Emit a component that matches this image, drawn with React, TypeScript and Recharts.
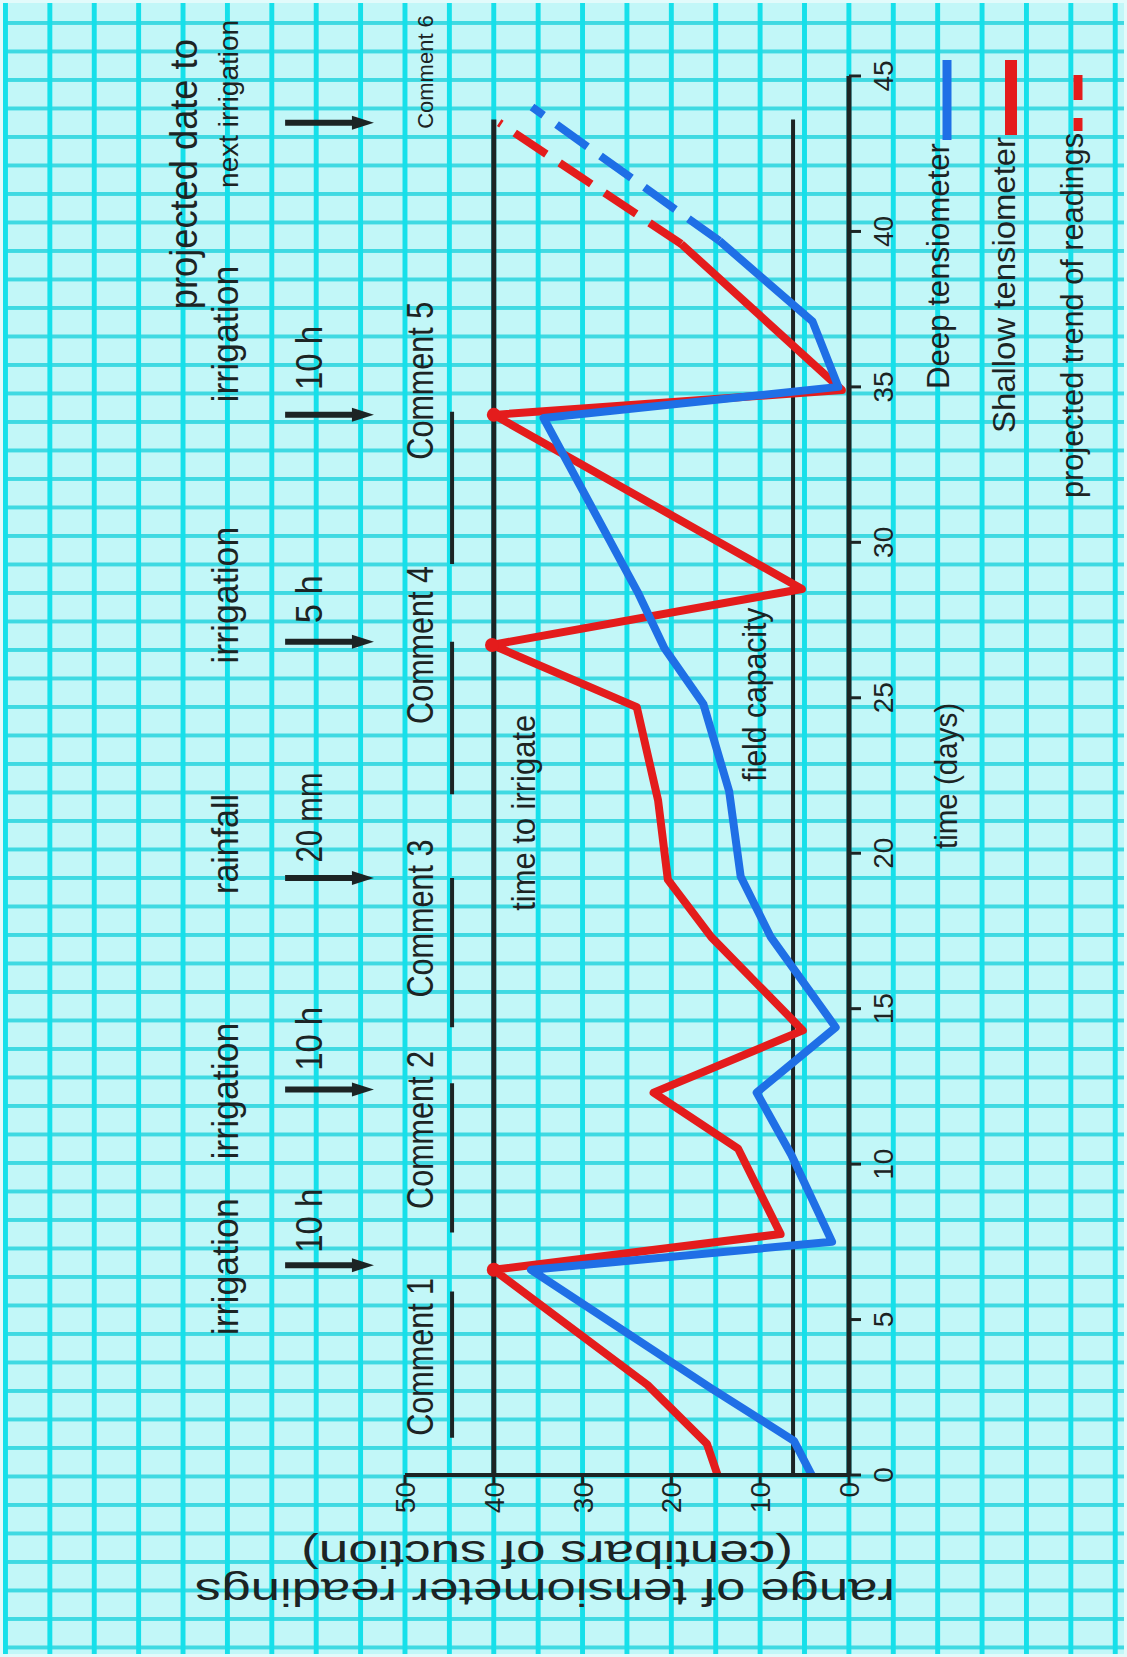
import React from "react";
import {
  LineChart,
  Line,
  XAxis,
  YAxis,
  ReferenceLine,
  ReferenceDot,
  Legend,
} from "recharts";

const INK = "#1c2424";
const BLUE = "#1f6fe6";
const RED = "#e41c1c";
const FONT = '"Liberation Sans", Arial, Helvetica, sans-serif';

// tensiometer readings (day, centibars)
const deepDays = [0, 1.1, 2.8, 6.6, 7.5, 10.3, 12.3, 14.4, 17.3, 19.25, 22, 24.8, 26.6, 28.4, 34, 35, 37.1, 39.7];
const deepCb = [4.2, 6.2, 15.6, 35.8, 1.9, 6.5, 10.4, 1.5, 8.8, 12.2, 13.5, 16.4, 20.8, 23.8, 34.4, 1.2, 4.1, 14.6];
const shallowDays = [0, 1, 2.9, 6.6, 7.75, 10.5, 12.3, 14.3, 17.3, 19.15, 21.7, 24.7, 26.7, 28.5, 34.1, 34.9, 39.6];
const shallowCb = [14.8, 16, 22.7, 40, 7.7, 12.5, 22, 5.2, 15.5, 20.4, 21.5, 23.9, 40.2, 5.3, 40, 0.8, 18.9];
const deepTrendDays = [39.7, 44];
const deepTrendCb = [14.6, 35.7];
const shallowTrendDays = [39.6, 43.5];
const shallowTrendCb = [18.9, 39.4];

const dayTicks = [0, 5, 10, 15, 20, 25, 30, 35, 40, 45];
const cbTicks = [0, 10, 20, 30, 40, 50];

// events written above the plot
const eventDays = [6.75, 12.4, 19.2, 26.8, 34.1, 43.5];
const eventNames = ["irrigation", "irrigation", "rainfall", "irrigation", "irrigation"];
const eventNameDays = [6.7, 12.35, 20.3, 28.3, 36.7];
const eventNameLens = [137, 137, 100, 137, 137];
const eventAmounts = ["10 h", "10 h", "20 mm", "5 h", "10 h"];
const eventAmountDays = [7.15, 13.0, 19.7, 27.4, 34.9];
const eventAmountLens = [64, 64, 90, 48, 64];

const commentLabels = ["Comment 1", "Comment 2", "Comment 3", "Comment 4", "Comment 5"];
const commentDays = [3.8, 11.1, 17.9, 26.7, 35.2];
const commentFrom = [1.2, 7.8, 14.4, 21.9, 29.3];
const commentTo = [5.9, 12.6, 19.2, 26.8, 34.2];

const legendNames = ["Deep tensiometer", "Shallow tensiometer", "projected trend of readings"];
const legendLens = [246, 296, 365];

// rows (in centibar units) used to place the notes
const TIME_TO_IRRIGATE = 40;
const FIELD_CAPACITY = 6.3;
const LINE_END = 43.6;
const ROW_PROJECTED = 73.4;
const ROW_EVENT = 68.8;
const ROW_ARROW_TOP = 63.5;
const ROW_ARROW_TIP = 53.5;
const ROW_AMOUNT = 59.3;
const ROW_COMMENT = 46.8;
const ROW_COMMENT_BAR = 44.7;
const ROW_IRRIGATE_TXT = 35.4;
const ROW_FC_TXT = 9.3;

const rows = (days: number[], vals: number[]) => days.map((d, i) => ({ day: d, cb: vals[i] }));

const textShape =
  (label: string, len: number | undefined, size: number, anchor: "start" | "middle" | "end") =>
  (p: any) =>
    (
      <text
        x={p.cx}
        y={p.cy}
        fontSize={size}
        textAnchor={anchor}
        textLength={len}
        lengthAdjust={len ? "spacingAndGlyphs" : undefined}
        fill={INK}
        fontFamily={FONT}
      >
        {label}
      </text>
    );

const arrowShape = (p: any) => {
  const { x1, y1, x2, y2 } = p;
  const head = 22;
  return (
    <g>
      <line x1={x1} y1={y1} x2={x2} y2={y2 - head + 2} stroke={INK} strokeWidth={6} />
      <path d={`M${x2 - 7},${y2 - head} L${x2 + 7},${y2 - head} L${x2},${y2} Z`} fill={INK} />
    </g>
  );
};

const DayTick = (p: any) => (
  <text x={p.x} y={p.y + 32} textAnchor="middle" fontSize={28} fill={INK} fontFamily={FONT}>
    {p.payload.value}
  </text>
);

const CbTick = (p: any) => (
  <text x={p.x + 3} y={p.y + 10} textAnchor="end" fontSize={28} fill={INK} fontFamily={FONT}>
    {p.payload.value}
  </text>
);

function KeyBox() {
  return (
    <svg width={460} height={200} style={{ overflow: "visible" }}>
      <text x={364} y={44} fontSize={32} textAnchor="end" textLength={legendLens[0]} lengthAdjust="spacingAndGlyphs" fill={INK} fontFamily={FONT}>
        {legendNames[0]}
      </text>
      <line x1={367} x2={447} y1={42} y2={42} stroke={BLUE} strokeWidth={9} />
      <text x={370} y={110} fontSize={32} textAnchor="end" textLength={legendLens[1]} lengthAdjust="spacingAndGlyphs" fill={INK} fontFamily={FONT}>
        {legendNames[1]}
      </text>
      <line x1={372} x2={447} y1={106} y2={106} stroke={RED} strokeWidth={12} />
      <text x={374} y={178} fontSize={32} textAnchor="end" textLength={legendLens[2]} lengthAdjust="spacingAndGlyphs" fill={INK} fontFamily={FONT}>
        {legendNames[2]}
      </text>
      <line x1={376} x2={389} y1={173} y2={173} stroke={RED} strokeWidth={9} />
      <line x1={407} x2={432} y1={173} y2={173} stroke={RED} strokeWidth={9} />
    </svg>
  );
}

const peakDot = (p: any) =>
  p.value >= 39 ? (
    <circle key={`pk-${p.index}`} cx={p.cx} cy={p.cy} r={7} fill={RED} />
  ) : (
    <g key={`pk-${p.index}`} />
  );

export default function App() {
  return (
    <div
      style={{
        position: "absolute",
        left: 0,
        top: 0,
        width: 1127,
        height: 1657,
        overflow: "hidden",
        backgroundColor: "#c2f7f8",
        backgroundImage:
          "linear-gradient(to right, #16e0ea 5px, transparent 5px), linear-gradient(to bottom, #3fd9e2 4px, transparent 4px)",
        backgroundSize: "44.4px 100%, 100% 28.5px",
        backgroundPosition: "3px 0, 0 21px",
        boxShadow: "inset 0 0 0 3px #e2fbfb",
        fontFamily: FONT,
      }}
    >
      <div
        style={{
          position: "absolute",
          left: 0,
          top: 0,
          width: 1657,
          height: 1127,
          transform: "translateY(1657px) rotate(-90deg)",
          transformOrigin: "0 0",
        }}
      >
        <LineChart width={1657} height={1127} margin={{ top: 405, right: 76, bottom: 218, left: 122 }}>
          <XAxis
            type="number"
            dataKey="day"
            domain={[0, 45]}
            ticks={dayTicks}
            interval={0}
            height={60}
            tickSize={12}
            tickMargin={0}
            tick={DayTick}
            axisLine={{ stroke: INK, strokeWidth: 5 }}
            tickLine={{ stroke: INK, strokeWidth: 3 }}
            label={(p: any) => (
              <text x={881} y={957} textAnchor="middle" fontSize={32} textLength={146} lengthAdjust="spacingAndGlyphs" fill={INK} fontFamily={FONT}>
                time (days)
              </text>
            )}
          />
          <YAxis
            type="number"
            domain={[0, 50]}
            ticks={cbTicks}
            interval={0}
            width={60}
            tickSize={10}
            tickMargin={0}
            tick={CbTick}
            axisLine={{ stroke: INK, strokeWidth: 4 }}
            tickLine={{ stroke: INK, strokeWidth: 3 }}
            label={(p: any) => (
              <g>
                <text transform="translate(78,545) rotate(-90)" textAnchor="middle" fontSize={38} textLength={700} lengthAdjust="spacingAndGlyphs" fill={INK} fontFamily={FONT}>
                  range of tensiometer readings
                </text>
                <text transform="translate(116,547) rotate(-90)" textAnchor="middle" fontSize={38} textLength={492} lengthAdjust="spacingAndGlyphs" fill={INK} fontFamily={FONT}>
                  (centibars of suction)
                </text>
              </g>
            )}
          />
          <Legend verticalAlign="middle" align="center" layout="horizontal" wrapperStyle={{ position: "absolute", left: 1150, top: 905, width: 460, height: 200 }} content={() => <KeyBox />} />

          <ReferenceLine segment={[{ x: 0, y: TIME_TO_IRRIGATE }, { x: LINE_END, y: TIME_TO_IRRIGATE }]} stroke={INK} strokeWidth={5} ifOverflow="visible" />
          <ReferenceLine segment={[{ x: 0, y: FIELD_CAPACITY }, { x: LINE_END, y: FIELD_CAPACITY }]} stroke={INK} strokeWidth={4} ifOverflow="visible" />
          {commentFrom.map((d, i) => (
            <ReferenceLine key={`cb-${i}`} segment={[{ x: d, y: ROW_COMMENT_BAR }, { x: commentTo[i], y: ROW_COMMENT_BAR }]} stroke={INK} strokeWidth={4} ifOverflow="visible" />
          ))}
          {eventDays.map((d, i) => (
            <ReferenceLine key={`ar-${i}`} segment={[{ x: d, y: ROW_ARROW_TOP }, { x: d, y: ROW_ARROW_TIP }]} ifOverflow="visible" shape={arrowShape} />
          ))}
          {eventNames.map((n, i) => (
            <ReferenceDot key={`en-${i}`} x={eventNameDays[i]} y={ROW_EVENT} r={0} ifOverflow="visible" shape={textShape(n, eventNameLens[i], 36, "middle")} />
          ))}
          {eventAmounts.map((n, i) => (
            <ReferenceDot key={`ea-${i}`} x={eventAmountDays[i]} y={ROW_AMOUNT} r={0} ifOverflow="visible" shape={textShape(n, eventAmountLens[i], 36, "start")} />
          ))}
          {commentLabels.map((n, i) => (
            <ReferenceDot key={`cm-${i}`} x={commentDays[i]} y={ROW_COMMENT} r={0} ifOverflow="visible" shape={textShape(n, 158, 36, "middle")} />
          ))}
          <ReferenceDot x={43.3} y={ROW_COMMENT} r={0} ifOverflow="visible" shape={textShape("Comment 6", undefined, 22, "start")} />
          <ReferenceDot x={37.5} y={ROW_PROJECTED} r={0} ifOverflow="visible" shape={textShape("projected date to", 270, 38, "start")} />
          <ReferenceDot x={41.4} y={ROW_EVENT} r={0} ifOverflow="visible" shape={textShape("next irrigation", undefined, 28, "start")} />
          <ReferenceDot x={21.3} y={ROW_IRRIGATE_TXT} r={0} ifOverflow="visible" shape={textShape("time to irrigate", 196, 34, "middle")} />
          <ReferenceDot x={25.1} y={ROW_FC_TXT} r={0} ifOverflow="visible" shape={textShape("field capacity", 174, 34, "middle")} />

          <Line data={rows(shallowDays, shallowCb)} dataKey="cb" type="linear" stroke={RED} strokeWidth={8} strokeLinejoin="round" dot={peakDot} activeDot={false} isAnimationActive={false} />
          <Line data={rows(deepDays, deepCb)} dataKey="cb" type="linear" stroke={BLUE} strokeWidth={8} strokeLinejoin="round" dot={false} activeDot={false} isAnimationActive={false} />
          <Line data={rows(shallowTrendDays, shallowTrendCb)} dataKey="cb" type="linear" stroke={RED} strokeWidth={8} strokeDasharray="38 16" dot={false} activeDot={false} isAnimationActive={false} />
          <Line data={rows(deepTrendDays, deepTrendCb)} dataKey="cb" type="linear" stroke={BLUE} strokeWidth={8} strokeDasharray="38 16" dot={false} activeDot={false} isAnimationActive={false} />
        </LineChart>
      </div>
    </div>
  );
}
